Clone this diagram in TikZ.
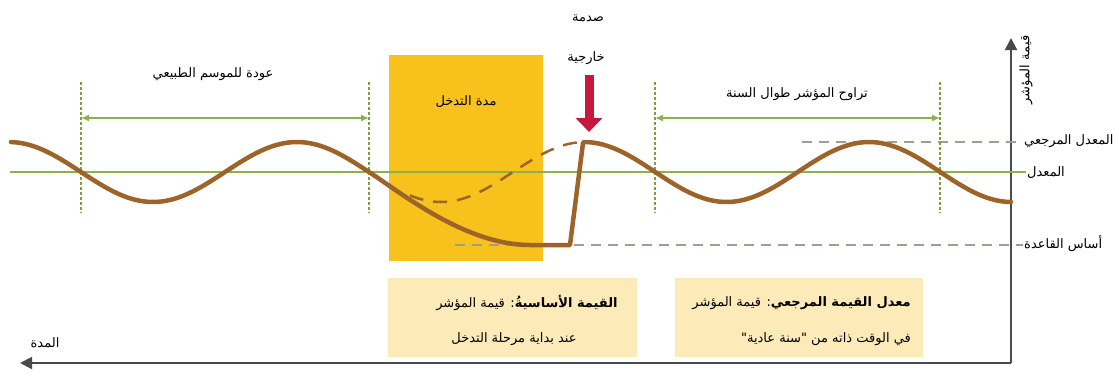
\documentclass[tikz,border=0pt]{standalone}
\usepackage{fontspec}
\newfontfamily\arabicfont[Script=Arabic]{DejaVu Sans}
\usetikzlibrary{arrows.meta}
\TeXXeTstate=1
\newcommand{\artext}[1]{\beginR #1\endR}

\definecolor{curvebrown}{HTML}{9C6428}
\definecolor{meangreen}{HTML}{8DB04D}
\definecolor{spangreen}{HTML}{7BA23F}
\definecolor{refgray}{HTML}{A89A8C}
\definecolor{boxgold}{HTML}{F8C21C}
\definecolor{notepale}{HTML}{FCEBB8}
\definecolor{shockred}{HTML}{C8173F}
\definecolor{axisgray}{HTML}{4A4A4A}

\begin{document}
\begin{tikzpicture}[x=1pt, y=-1pt,
    lbl/.style={font=\arabicfont\fontsize{13}{15}\selectfont, inner sep=1pt},
    wave/.style={curvebrown, line width=4.5pt, line cap=round, line join=round},
    ghost/.style={curvebrown, line width=2.5pt, dash pattern=on 14pt off 10pt},
    refline/.style={refgray, line width=2pt, dash pattern=on 10pt off 7pt},
    marker/.style={spangreen, line width=1.5pt, dash pattern=on 3pt off 2pt},
    span/.style={meangreen, line width=2pt, {Latex[length=8pt,width=7pt]}-{Latex[length=8pt,width=7pt]}},
    axis/.style={axisgray, line width=2pt, -{Triangle[length=12pt,width=12pt]}}]
    \useasboundingbox (0,0) rectangle (1119,376);

    % intervention window and notes
    \node[fill=boxgold, minimum width=154pt, minimum height=206pt, inner sep=0] (window) at (466,158) {};
    \node[lbl] (windowlbl) at (466,102) {\artext{مدة التدخل}};
    \node[fill=notepale, minimum width=249pt, minimum height=79pt, inner sep=0] (basenote) at (512.5,317.5) {};
    \node[fill=notepale, minimum width=248pt, minimum height=79pt, inner sep=0] (refnote) at (799,317.5) {};
    \node[lbl] (basetop) at (527,303) {\artext{{\bfseries القيمة الأساسيةُ}: قيمة المؤشر}};
    \node[lbl] (basebot) at (514,339) {\artext{عند بداية مرحلة التدخل}};
    \node[lbl, anchor=east] (reftop) at (912,303) {\artext{{\bfseries معدل القيمة المرجعي}: قيمة المؤشر}};
    \node[lbl, anchor=east] (refbot) at (912,339) {\artext{في الوقت ذاته من "سنة عادية"}};

    % axes
    \coordinate (origin) at (1011,363);
    \coordinate (ytip) at (1011,38);
    \coordinate (xtip) at (20,363);
    \draw[axis] (origin) -- (ytip);
    \draw[axis] (origin) -- (xtip);
    \node[lbl, rotate=90] (yname) at (1026,70) {\artext{قيمة المؤشر}};
    \node[lbl] (xname) at (45,343) {\artext{المدة}};

    % levels
    \node[lbl, anchor=west] (meanlbl) at (1026,173) {\artext{المعدل}};
    \node[lbl, anchor=west] (reflbl) at (1023,141) {\artext{المعدل المرجعي}};
    \node[lbl, anchor=west] (baselbl) at (1023,244) {\artext{أساس القاعدة}};
    \coordinate (meanstart) at (10,172);
    \coordinate (refstart) at (802,142);
    \coordinate (basestart) at (455,245);
    \draw[meangreen, line width=2pt] (meanstart) -- (meanstart -| meanlbl.west);
    \draw[refline] (refstart) -- (refstart -| reflbl.west);
    \draw[refline] (basestart) -- (basestart -| baselbl.west);

    % seasonal spans
    \foreach \xv in {81,369,655,940}
        \draw[marker] (\xv,82) -- (\xv,213);
    \coordinate (s1) at (81,118);
    \coordinate (s2) at (369,118);
    \coordinate (s3) at (655,118);
    \coordinate (s4) at (940,118);
    \draw[span] (s1) -- (s2);
    \draw[span] (s3) -- (s4);
    \node[lbl] (seasonlbl) at (213,74) {\artext{عودة للموسم الطبيعي}};
    \node[lbl] (yearlbl) at (797,94) {\artext{تراوح المؤشر طوال السنة}};

    % indicator curve
    \draw[ghost] plot[domain=410:580, samples=40] (\x,{172-30*cos(1.25*(\x-9))});
    \draw[wave] plot[domain=11:369, samples=90] (\x,{172-30*cos(1.25*(\x-9))})
        .. controls (400,192) and (465,245) .. (530,245) -- (570,245) -- (583,143)
        -- plot[domain=584:1011, samples=90] (\x,{172-30*cos(1.263158*(\x-584))});

    % external shock
    \node[lbl] (shock1) at (588,18) {\artext{صدمة}};
    \node[lbl] (shock2) at (586,58) {\artext{خارجية}};
    \coordinate (shocktop) at (589,75);
    \coordinate (shockend) at (589,132);
    \draw[shockred, line width=9pt, -{Triangle[length=14pt,width=26pt]}] (shocktop) -- (shockend);
\end{tikzpicture}
\end{document}
